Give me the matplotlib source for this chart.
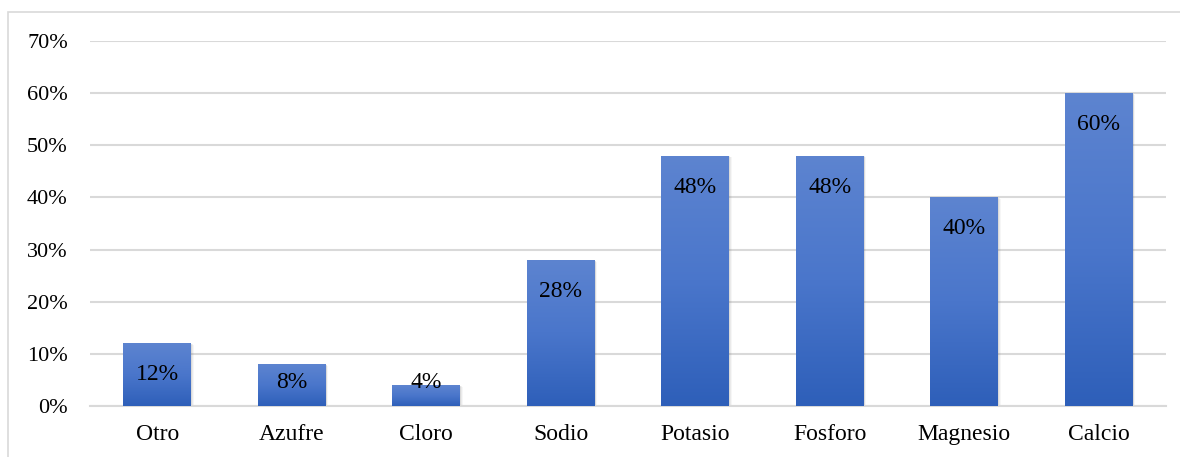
import matplotlib.pyplot as plt
import matplotlib.patches as mpatches
from matplotlib.colors import LinearSegmentedColormap
import numpy as np

# data
categories = ['Otro', 'Azufre', 'Cloro', 'Sodio', 'Potasio', 'Fosforo', 'Magnesio', 'Calcio']
values = [0.12, 0.08, 0.04, 0.28, 0.48, 0.48, 0.40, 0.60]
labels = ['12%', '8%', '4%', '28%', '48%', '48%', '40%', '60%']
yticks = [0.0, 0.1, 0.2, 0.3, 0.4, 0.5, 0.6, 0.7]
ytick_labels = ['0%', '10%', '20%', '30%', '40%', '50%', '60%', '70%']

plt.rcParams['font.family'] = ['Liberation Serif', 'DejaVu Serif']

fig = plt.figure(figsize=(11.8, 4.57), dpi=100)
ax = fig.add_axes([90 / 1180, 1 - 406 / 457, 1076 / 1180, 365 / 457])

# outer chart border (only top and left are visible)
fig.patches.append(mpatches.Rectangle((8 / 1180, -0.1), 1.2, 1 - 12 / 457 + 0.1,
                                      transform=fig.transFigure, fill=False,
                                      edgecolor='#d9d9d9', linewidth=1.2))

x = np.arange(len(categories))
width = 0.505
cmap = LinearSegmentedColormap.from_list('blue', ['#2e5fb9', '#4a76cb', '#5d84d0'])
grad = np.linspace(0, 1, 256).reshape(-1, 1)

# soft shadow
for k, a in [(3, 0.05), (2, 0.07), (1, 0.1)]:
    ax.bar(x + 0.006 * k / 2, [v + 0.0015 * k for v in values], width + 0.006 * k,
           bottom=-0.0025 * k, color='#555555', alpha=a, zorder=2, linewidth=0)

bars = ax.bar(x, values, width, color='#4472c4', zorder=3, linewidth=0)
for b in bars:
    x0, w, h = b.get_x(), b.get_width(), b.get_height()
    im = ax.imshow(grad, cmap=cmap, origin='lower', aspect='auto',
                   extent=[x0, x0 + w, 0, h], zorder=3.5)
    im.set_clip_path(b)

# labels inside the bar end, kept above the axis for short bars
for xi, v, lab in zip(x, values, labels):
    ax.text(xi, max(v - 0.071, 0.035), lab, ha='center', va='baseline',
            fontsize=17, color='#000000', zorder=5)

ax.set_xlim(-0.5, len(categories) - 0.5)
ax.set_ylim(0, 0.7)
ax.set_yticks(yticks)
ax.set_yticklabels(ytick_labels)
ax.set_xticks(x)
ax.set_xticklabels(categories)
ax.tick_params(axis='both', length=0, colors='#000000')
ax.tick_params(axis='y', pad=16, labelsize=16)
ax.tick_params(axis='x', pad=13, labelsize=17)
ax.grid(axis='y', color='#d9d9d9', linewidth=1.5, zorder=0)
ax.set_axisbelow(True)
for s in ['top', 'right', 'left']:
    ax.spines[s].set_visible(False)
ax.spines['bottom'].set_color('#d9d9d9')
ax.spines['bottom'].set_linewidth(1.5)

fig.savefig('out.png', dpi=100)
